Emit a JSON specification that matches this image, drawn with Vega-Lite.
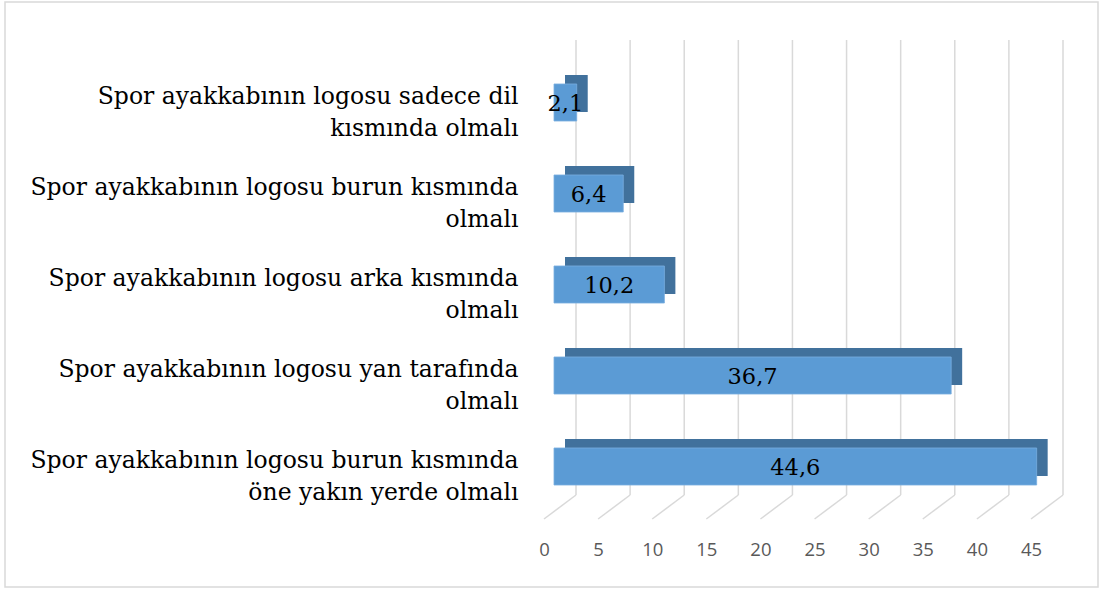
{
  "$schema": "https://vega.github.io/schema/vega-lite/v6.json",
  "width": 1093,
  "height": 585,
  "autosize": "none",
  "padding": {"left": 5, "top": 2, "right": 5, "bottom": 3},
  "background": "white",
  "config": {
    "view": {"stroke": "#d9d9d9", "strokeWidth": 1.5},
    "locale": {"number": {"decimal": ",", "thousands": ".", "grouping": [3], "currency": ["", ""]}}
  },
  "datasets": {
    "bars": [
      {"category": "Spor ayakkabının logosu sadece dil\nkısmında olmalı", "value": 2.1},
      {"category": "Spor ayakkabının logosu burun kısmında\nolmalı", "value": 6.4},
      {"category": "Spor ayakkabının logosu arka kısmında\nolmalı", "value": 10.2},
      {"category": "Spor ayakkabının logosu yan tarafında\nolmalı", "value": 36.7},
      {"category": "Spor ayakkabının logosu burun kısmında\nöne yakın yerde olmalı", "value": 44.6}
    ],
    "ticks": [
      {"tick": 0}, {"tick": 5}, {"tick": 10}, {"tick": 15}, {"tick": 20},
      {"tick": 25}, {"tick": 30}, {"tick": 35}, {"tick": 40}, {"tick": 45}
    ]
  },
  "resolve": {"scale": {"x": "independent", "y": "independent"}, "axis": {"x": "independent", "y": "independent"}},
  "layer": [
    {
      "data": {"name": "ticks"},
      "mark": {"type": "rule", "color": "#d9d9d9", "strokeWidth": 1.5, "xOffset": 22},
      "encoding": {
        "x": {"field": "tick", "type": "quantitative",
              "scale": {"domain": [0, 45], "range": [549, 1036], "nice": false},
              "axis": {"orient": "bottom", "offset": -38, "domain": false, "ticks": false, "grid": false,
                       "values": [0, 5, 10, 15, 20, 25, 30, 35, 40, 45],
                       "labelPadding": 0, "labelBaseline": "middle", "labelOffset": -10,
                       "labelFont": "Open Sans", "labelFontSize": 18.5, "labelColor": "#595959",
                       "labelFlush": false, "labelOverlap": false, "title": null}},
        "y": {"datum": 0, "type": "quantitative", "scale": {"domain": [0, 1], "range": [493, 38], "nice": false}, "axis": null},
        "y2": {"datum": 1}
      }
    },
    {
      "data": {"name": "ticks"},
      "mark": {"type": "rule", "color": "#d9d9d9", "strokeWidth": 1.5, "xOffset": -10, "x2Offset": 22},
      "encoding": {
        "x": {"field": "tick", "type": "quantitative",
              "scale": {"domain": [0, 45], "range": [549, 1036], "nice": false}, "axis": null},
        "x2": {"field": "tick"},
        "y": {"datum": 0, "type": "quantitative", "scale": {"domain": [0, 1], "range": [517, 493], "nice": false}, "axis": null},
        "y2": {"datum": 1}
      }
    },
    {
      "data": {"name": "bars"},
      "mark": {"type": "bar", "color": "#41719c", "xOffset": 11, "x2Offset": 11, "yOffset": 8, "y2Offset": 8},
      "encoding": {
        "y": {"field": "category", "type": "nominal",
              "sort": {"field": "value", "order": "ascending"},
              "scale": {"range": [38, 493], "paddingInner": 0.593, "paddingOuter": 0.2965},
              "axis": {"orient": "left", "offset": -513, "domain": false, "ticks": false, "grid": false,
                       "labelPadding": 0, "labelAlign": "right", "labelOffset": 11.5,
                       "labelExpr": "split(datum.label, '\\n')", "labelLineHeight": 32,
                       "labelFont": "DejaVu Serif", "labelFontSize": 23.5, "labelColor": "#000000",
                       "labelLimit": 600, "title": null}},
        "x": {"field": "value", "type": "quantitative",
              "scale": {"domain": [0, 45], "range": [549, 1036], "nice": false}, "axis": null}
      }
    },
    {
      "data": {"name": "bars"},
      "mark": {"type": "bar", "color": "#5b9bd5", "stroke": "#7aaee0", "strokeWidth": 0.8, "yOffset": 17, "y2Offset": 17},
      "encoding": {
        "y": {"field": "category", "type": "nominal", "sort": {"field": "value", "order": "ascending"},
              "scale": {"range": [38, 493], "paddingInner": 0.593, "paddingOuter": 0.2965}, "axis": null},
        "x": {"field": "value", "type": "quantitative",
              "scale": {"domain": [0, 45], "range": [549, 1036], "nice": false}, "axis": null}
      }
    },
    {
      "data": {"name": "bars"},
      "mark": {"type": "text", "font": "DejaVu Serif", "fontSize": 22.5, "color": "#000000",
               "align": "center", "baseline": "middle", "yOffset": 18},
      "encoding": {
        "y": {"field": "category", "type": "nominal", "sort": {"field": "value", "order": "ascending"},
              "scale": {"range": [38, 493], "paddingInner": 0.593, "paddingOuter": 0.2965}, "axis": null},
        "x": {"field": "value", "type": "quantitative",
              "scale": {"domain": [0, 90], "range": [549, 1036], "nice": false}, "axis": null},
        "text": {"field": "value", "type": "quantitative", "format": ".1f"}
      }
    }
  ]
}
